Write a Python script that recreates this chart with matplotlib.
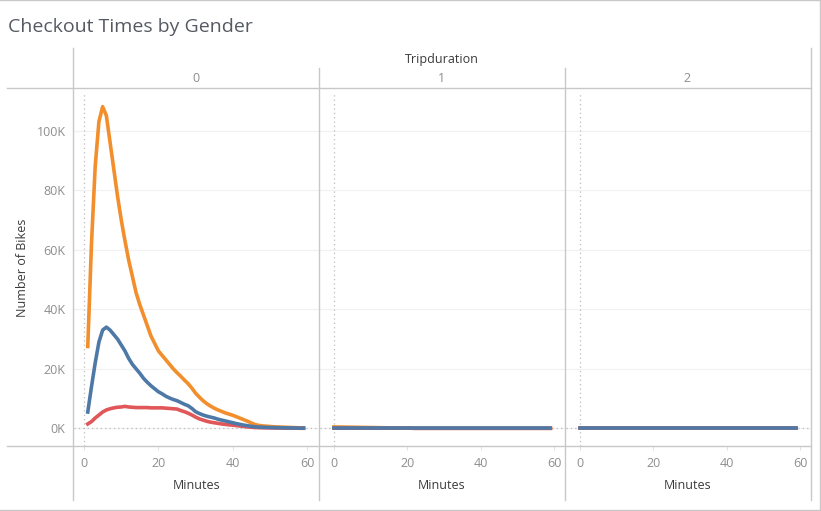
import matplotlib
matplotlib.use('Agg')
import matplotlib.pyplot as plt
from matplotlib.lines import Line2D
from matplotlib.ticker import FuncFormatter

W, H = 821, 511

plt.rcParams['font.family'] = ['Open Sans', 'DejaVu Sans']

minutes = list(range(1, 60))
minutes_flat = list(range(0, 60))

orange_0 = [27.5, 62, 88, 103, 108, 105, 96, 87, 78, 70,
            63, 56.5, 51, 45.5, 41.5, 38, 34.5, 31, 28.5, 26,
            24.5, 23, 21.5, 20, 18.7, 17.5, 16.2, 15, 13.5, 11.8,
            10.5, 9.3, 8.3, 7.5, 6.8, 6.2, 5.7, 5.2, 4.8, 4.4,
            3.9, 3.4, 2.9, 2.4, 1.8, 1.3, 1, 0.85, 0.75, 0.65,
            0.55, 0.5, 0.45, 0.4, 0.35, 0.3, 0.25, 0.2, 0.15]
blue_0 = [5.5, 14, 22, 29, 33, 34, 33, 31.5, 30, 28,
          26, 23.5, 21.5, 20, 18.5, 16.8, 15.5, 14.3, 13.3, 12.3,
          11.6, 10.8, 10.2, 9.7, 9.3, 8.7, 8.1, 7.6, 6.7, 5.6,
          5, 4.5, 4.1, 3.8, 3.5, 3.1, 2.8, 2.5, 2.2, 1.9,
          1.6, 1.35, 1.1, 0.9, 0.7, 0.55, 0.45, 0.4, 0.35, 0.3,
          0.28, 0.25, 0.22, 0.2, 0.18, 0.15, 0.12, 0.1, 0.1]
red_0 = [1.5, 2.3, 3.5, 4.5, 5.5, 6.2, 6.6, 6.9, 7.1, 7.2,
         7.4, 7.2, 7.1, 7, 7, 7, 7, 6.9, 6.9, 6.9,
         6.9, 6.8, 6.7, 6.6, 6.5, 6, 5.6, 5.1, 4.5, 3.8,
         3.2, 2.8, 2.4, 2.1, 1.9, 1.7, 1.5, 1.35, 1.2, 1.1,
         0.95, 0.8, 0.65, 0.5, 0.4, 0.3, 0.25, 0.22, 0.2, 0.18,
         0.15, 0.13, 0.12, 0.1, 0.1, 0.08, 0.08, 0.06, 0.05]

orange_1 = [0.5, 0.48, 0.46, 0.44, 0.42, 0.4, 0.38, 0.36, 0.34, 0.32,
            0.3, 0.28, 0.26, 0.24, 0.22, 0.2, 0.18, 0.16, 0.14, 0.12,
            0.1, 0.08] + [0.05] * 38
blue_1 = [0.05] * 60
red_1 = [0.08] * 22 + [0.03] * 38

orange_2 = [0.02] * 60
blue_2 = [0.02] * 60
red_2 = [0.02] * 60

panel_names = ['0', '1', '2']
x_ticks = [0, 20, 40, 60]
y_ticks = [0, 20, 40, 60, 80, 100]

ORANGE = '#F28E2B'
BLUE = '#4E79A7'
RED = '#E15759'
LINE_GREY = '#C8C8C8'
TICK_GREY = '#8E8E8E'
LABEL = '#3A3A3A'

panel_edges = [(74, 319.5), (319.5, 565.5), (565.5, 811.5)]
panel_xlims = [(-2.7, 63.3), (-3.95, 63.1), (-3.95, 63.1)]
top_px, bottom_px = 88.5, 446


def fx(px):
    return px / W


def fy(py):
    return 1 - py / H


fig = plt.figure(figsize=(W / 100, H / 100), dpi=100, facecolor='white')

series = [
    (minutes, orange_0, red_0, blue_0),
    (minutes_flat, orange_1, red_1, blue_1),
    (minutes_flat, orange_2, red_2, blue_2),
]

for i, (left, right) in enumerate(panel_edges):
    ax = fig.add_axes([fx(left), fy(bottom_px), (right - left) / W, (bottom_px - top_px) / H])
    ax.set_xlim(*panel_xlims[i])
    ax.set_ylim(-5.9, 114.1)
    ax.patch.set_alpha(0)
    for s in ax.spines.values():
        s.set_visible(False)

    ax.grid(axis='y', color='#F1F1F1', lw=0.9)
    ax.set_axisbelow(True)
    ax.axhline(0, color='#BDBDBD', lw=0.9, ls=(0, (1, 2.5)), zorder=1)
    ax.axvline(0, ymin=0, ymax=0.985, color='#BDBDBD', lw=0.9, ls=(0, (1, 2.5)), zorder=1)

    xs, yo, yr, yb = series[i]
    ax.plot(xs, yo, color=ORANGE, lw=2.6, zorder=3, solid_joinstyle='round')
    ax.plot(xs, yr, color=RED, lw=2.6, zorder=4, solid_joinstyle='round')
    ax.plot(xs, yb, color=BLUE, lw=2.6, zorder=5, solid_joinstyle='round')

    ax.set_xticks(x_ticks)
    ax.set_yticks(y_ticks)
    ax.yaxis.set_major_formatter(FuncFormatter(lambda v, p: f'{int(v)}K'))
    ax.tick_params(axis='x', length=3, width=0.7, color='#E2E2E2', labelsize=9,
                   labelcolor=TICK_GREY, pad=5)
    ax.tick_params(axis='y', length=0, labelsize=9, labelcolor=TICK_GREY, pad=6,
                   labelleft=(i == 0))

    fig.text(fx((left + right) / 2 - 0.5), fy(485), 'Minutes', ha='center', va='center',
             fontsize=9, color=LABEL)
    fig.text(fx((left + right) / 2 - 1), fy(78), panel_names[i], ha='center', va='center',
             fontsize=9, color=TICK_GREY)

# frame and pane dividers
rules = [
    ((7, 811), (88.5, 88.5)),
    ((7, 811), (446, 446)),
    ((73, 73), (48, 500)),
    ((319, 319), (68, 500)),
    ((565, 565), (68, 500)),
    ((811, 811), (48, 500)),
    ((0, 821), (0.5, 0.5)),
    ((0, 821), (510, 510)),
    ((820, 820), (0, 511)),
]
for xs, ys in rules:
    fig.add_artist(Line2D([fx(v) for v in xs], [fy(v) for v in ys], color=LINE_GREY, lw=1.0))

fig.text(fx(8), fy(27), 'Checkout Times by Gender', ha='left', va='center',
         fontsize=14, color='#555A62')
fig.text(fx(442), fy(59), 'Tripduration', ha='center', va='center',
         fontsize=9, color=LABEL)
fig.text(fx(23), fy(268), 'Number of Bikes', ha='center', va='center', rotation=90,
         fontsize=9, color=LABEL)

fig.savefig('out.png', dpi=100)
